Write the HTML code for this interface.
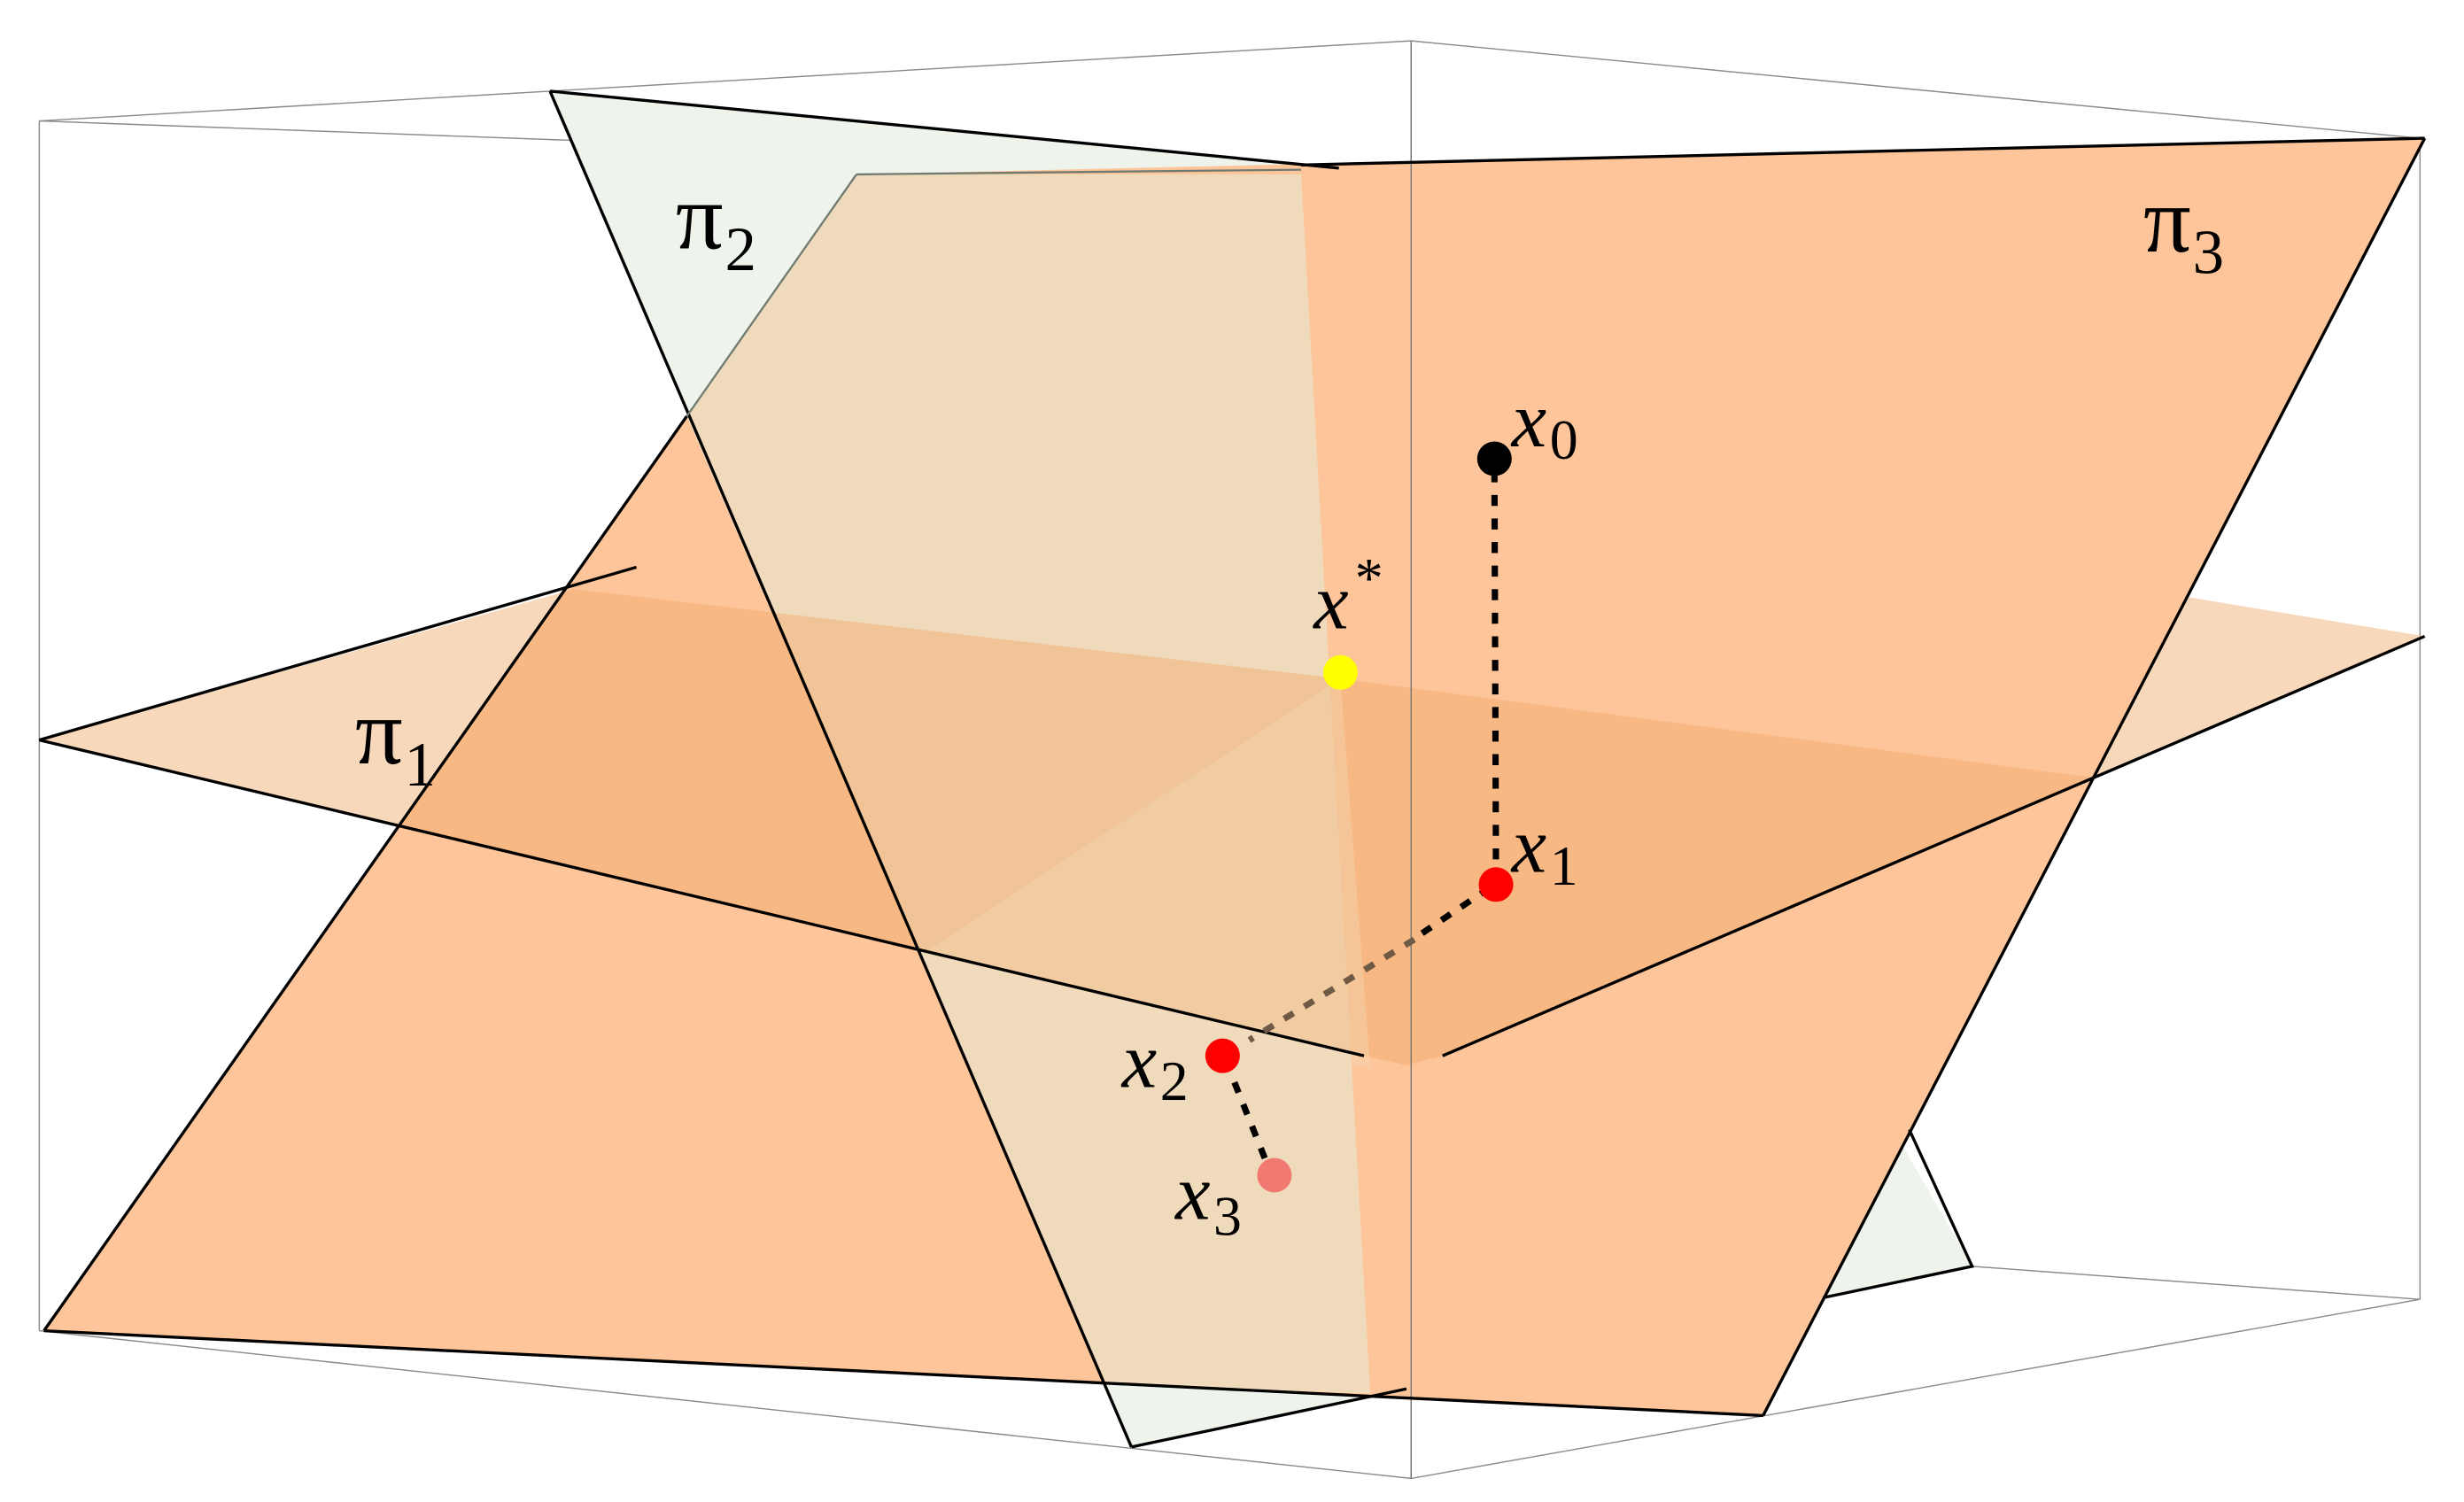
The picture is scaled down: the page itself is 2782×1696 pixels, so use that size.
<!DOCTYPE html>
<html><head><meta charset="utf-8"><style>
html,body{margin:0;padding:0;background:#fff;}
svg{display:block;}
.lb{font-family:"Liberation Serif","DejaVu Serif",serif;}
</style></head><body>
<svg width="2782" height="1696" viewBox="0 0 1568 956" preserveAspectRatio="none" xmlns="http://www.w3.org/2000/svg">
<g stroke="#8a8a8a" stroke-width="0.8" fill="none">
<polyline points="25,77 898,26 1540,88"/>
<line x1="25" y1="77" x2="850" y2="107"/>
<line x1="898" y1="26" x2="898" y2="941"/>
<line x1="25" y1="77" x2="25" y2="847"/>
<line x1="1540" y1="88" x2="1540" y2="827"/>
<polyline points="25,847 898,941 1540,827"/>
<line x1="1255" y1="806" x2="1540" y2="827"/>
</g>
<polygon points="350,58 852,107 1255,806 720,921" fill="#eef4ec"/>
<polygon points="545,111 1543,88 1122,901 28,847" fill="#fdc599"/>
<polygon points="545,111 828,111 872,887 704,881 437,265" fill="#f0dabc"/>
<polygon points="25,471 365,375 853,432 1332,495 1392,380 1543,405 918,672 895,678 868,672" fill="#f0a868" fill-opacity="0.45"/>
<polygon points="853,432 590,605 700,640 872,680" fill="#f3dcbd" fill-opacity="0.35"/>
<line x1="898" y1="26" x2="898" y2="941" stroke="#777" stroke-width="0.8"/>
<g stroke="#000" stroke-width="1.9" fill="none">
<line x1="350" y1="58" x2="852" y2="107"/>
<line x1="350" y1="58" x2="720" y2="921"/>
<line x1="720" y1="921" x2="895" y2="884"/>
<polyline points="1215,719 1255,806 1160,826"/>
<line x1="828" y1="105" x2="1543" y2="88"/>
<line x1="1543" y1="88" x2="1122" y2="901"/>
<line x1="28" y1="847" x2="1122" y2="901"/>
<line x1="28" y1="847" x2="437" y2="265"/>
<line x1="25" y1="471" x2="405" y2="361"/>
<line x1="25" y1="471" x2="868" y2="672"/>
<line x1="918" y1="672" x2="1543" y2="405"/>
</g>
<g stroke="#6f7a70" stroke-width="1.3" fill="none">
<line x1="437" y1="265" x2="545" y2="111"/>
<line x1="545" y1="111" x2="828" y2="108"/>
</g>
<line x1="951" y1="300" x2="952" y2="558" stroke="#000" stroke-width="4" stroke-dasharray="7,8"/>
<line x1="948" y1="565" x2="905" y2="594" stroke="#000" stroke-width="4" stroke-dasharray="7,8"/>
<line x1="900" y1="598" x2="795" y2="662" stroke="#6e5a45" stroke-width="4" stroke-dasharray="7,8"/>
<line x1="780" y1="675" x2="806" y2="740" stroke="#000" stroke-width="4" stroke-dasharray="7,8"/>
<circle cx="951" cy="292" r="11" fill="#000"/>
<circle cx="853" cy="428" r="11" fill="#ffff00"/>
<circle cx="952" cy="563" r="11" fill="#ff0000"/>
<circle cx="778" cy="672" r="11" fill="#ff0000"/>
<circle cx="811" cy="748" r="11" fill="#f07a72"/>
<g class="lb" font-family="Liberation Serif, DejaVu Serif, serif" fill="#000">
<text x="430" y="158" font-size="60">π<tspan font-size="40" dy="14" dx="1">2</tspan></text>
<text x="1364" y="160" font-size="60">π<tspan font-size="40" dy="14" dx="1">3</tspan></text>
<text x="226" y="486" font-size="60">π<tspan font-size="40" dy="14" dx="1">1</tspan></text>
<text x="962" y="284" font-size="50"><tspan font-style="italic">x</tspan><tspan font-size="36" dy="8" dx="2">0</tspan></text>
<text x="836" y="400" font-size="50"><tspan font-style="italic">x</tspan><tspan font-size="36" dy="-20" dx="4">*</tspan></text>
<text x="962" y="555" font-size="50"><tspan font-style="italic">x</tspan><tspan font-size="36" dy="8" dx="2">1</tspan></text>
<text x="714" y="692" font-size="50"><tspan font-style="italic">x</tspan><tspan font-size="36" dy="8" dx="2">2</tspan></text>
<text x="748" y="776" font-size="50"><tspan font-style="italic">x</tspan><tspan font-size="36" dy="10" dx="2">3</tspan></text>
</g>
</svg>
</body></html>
